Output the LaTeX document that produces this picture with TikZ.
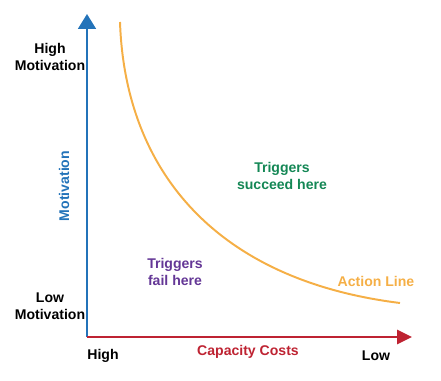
\documentclass[tikz,border=0pt]{standalone}
\usepackage{fontspec}
\setmainfont{Liberation Sans}
\usetikzlibrary{arrows.meta}
\definecolor{axisblue}{RGB}{35,115,185}
\definecolor{axisred}{RGB}{190,35,50}
\definecolor{actionorange}{RGB}{245,175,70}
\definecolor{succgreen}{RGB}{20,135,85}
\definecolor{failpurple}{RGB}{100,55,150}

\begin{document}
\begin{tikzpicture}[
      x=0.025cm, y=-0.025cm,
      font=\fontsize{10}{12}\selectfont\bfseries,
      every node/.style={align=center},
      axis/.style={line width=1.6pt},
      label/.style={text=black},
      curve/.style={draw=actionorange, line width=1.4pt},
    ]
    \useasboundingbox (0,0) rectangle (441,381);
    \coordinate (orig) at (87,337);
    \coordinate (ytop) at (87,14);
    \coordinate (xend) at (412,337);
    \coordinate (cstart) at (120,22);
    \coordinate (cend) at (400,303);

    % axes
    \draw[axis, draw=axisblue, -{Triangle[length=10.5pt, width=12.5pt]}] (orig) -- (ytop);
    \draw[axis, draw=axisred, -{Triangle[length=10.5pt, width=10pt]}] (orig) -- (xend);

    % action line
    \draw[curve] (cstart) .. controls (125,170) and (215,280) .. (cend);

    \node[label] (himot) at (50,57) {High\\Motivation};
    \node[label] (lomot) at (50,306) {Low\\Motivation};
    \node[text=axisblue, rotate=90] (mot) at (64,186) {Motivation};
    \node[label] (hicost) at (103,356) {High};
    \node[label] (locost) at (376,356) {Low};
    \node[text=axisred] (cap) at (248,352) {Capacity Costs};
    \node[text=succgreen] (succ) at (282,176) {Triggers\\succeed here};
    \node[text=failpurple] (fail) at (175,272) {Triggers\\fail here};
    \node[text=actionorange] (act) at (376,281) {Action Line};
  \end{tikzpicture}
\end{document}
